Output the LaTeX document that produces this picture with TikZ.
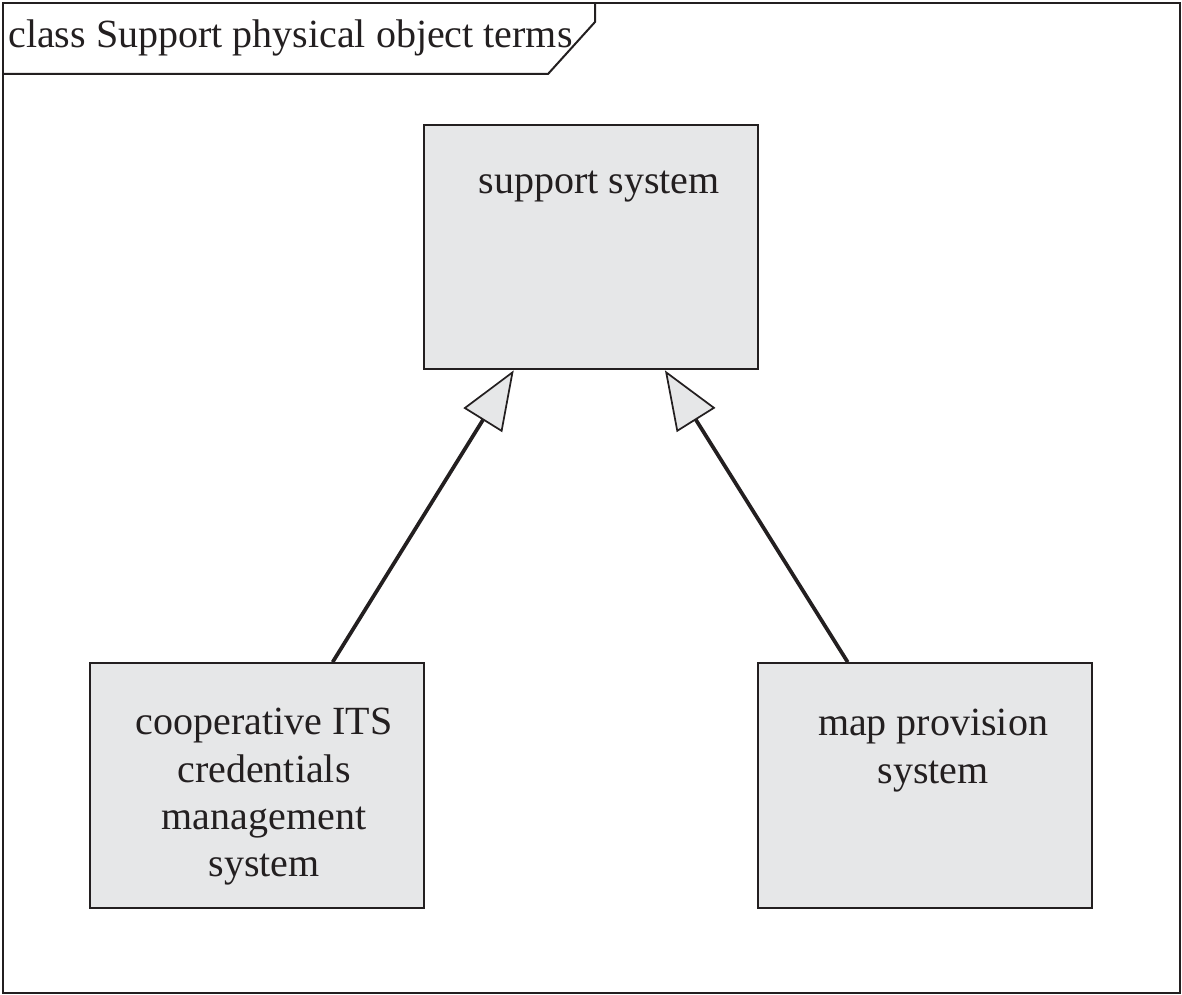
\documentclass[tikz,border=0pt]{standalone}
\usepackage{fontspec}
\setmainfont{Liberation Serif}
\usepackage{xcolor}
\usetikzlibrary{positioning,arrows.meta,calc}
\definecolor{boxgray}{HTML}{E6E7E8}
\definecolor{inkline}{HTML}{231F20}

\begin{document}
\begin{tikzpicture}[x=0.75pt, y=-0.75pt,
  font=\fontsize{30}{35.5}\selectfont,
  frame/.style={draw=inkline, line width=1.5pt},
  cls/.style={draw=inkline, fill=boxgray, line width=1.5pt,
              minimum width=250.5pt, minimum height=183.5pt, inner sep=0pt},
  clstext/.style={anchor=north, align=center, inner sep=0pt, text=inkline},
  gen/.style={draw=inkline, line width=2.8pt,
              -{Triangle[length=44pt, width=34pt, fill=boxgray, line width=1.3pt]}}]
\useasboundingbox (0,0) rectangle (1182,995);
% frame and title tab
\draw[frame, fill=white] (3,3) rectangle (1180,993);
\draw[frame] (3,74) -- (548,74) -- (595,22) -- (595,3);
\node[anchor=base west, inner sep=0pt, text=inkline] (title) at (8,48)
  {class Support physical object terms};
% classes
\node[cls] (support) at (591,247) {};
\node[cls] (ccms) at (257,785.5) {};
\node[cls] (mapprov) at (925,785.5) {};
\node[clstext] (supporttxt) at ($(support.north)+(8,47)$) {support system};
\node[clstext] (ccmstxt) at ($(ccms.north)+(7,46)$)
  {cooperative ITS\\credentials\\management\\system};
\node[clstext] (mapprovtxt) at ($(mapprov.north)+(8,47)$) {map provision\\system};
% generalisations
\draw[gen] ($(ccms.north west)!0.725!(ccms.north east)$)
  -- ($(support.south west)!0.27!(support.south east)$);
\draw[gen] ($(mapprov.north west)!0.27!(mapprov.north east)$)
  -- ($(support.south west)!0.72!(support.south east)$);
\end{tikzpicture}
\end{document}
